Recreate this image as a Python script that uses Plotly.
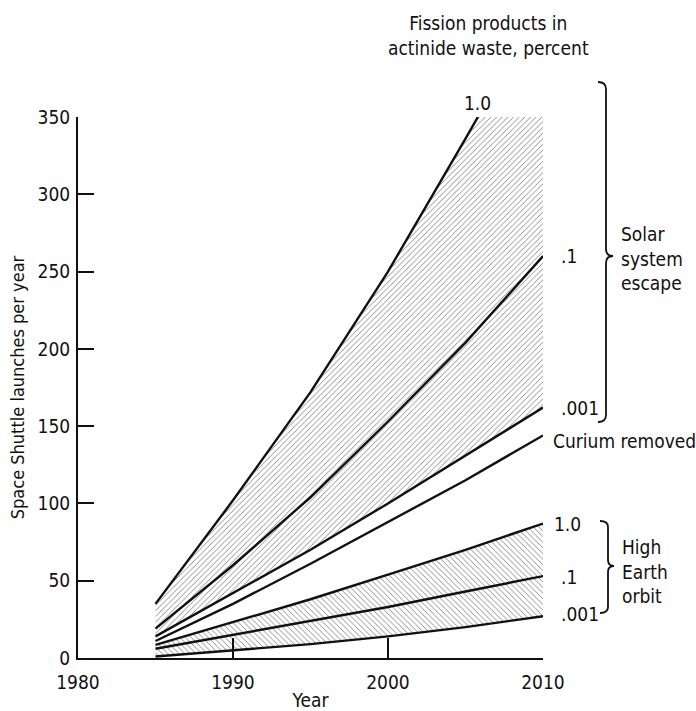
import plotly.graph_objects as go

# ---------------- data ----------------
years = [1985, 1990, 1995, 2000, 2005, 2010]

# Solar system escape, fission products in actinide waste (percent)
solar_1_0_years = [1985, 1990, 1995, 2000, 2005, 2005.8]
solar_1_0 = [35, 102, 172, 250, 336, 350]
solar_0_1 = [19, 60, 104, 153, 204, 260]
solar_0_001 = [14, 42, 70, 100, 131, 162]

# Curium removed
curium_removed = [11, 35, 61, 88, 115, 144]

# High Earth orbit
heo_1_0 = [8.5, 23, 38, 54, 70, 87]
heo_0_1 = [6, 15, 24, 33, 43, 53]
heo_0_001 = [1, 5, 9, 14, 20, 27]

x_range = [1980, 2010]
y_range = [0, 350]
x_ticks = [1980, 1990, 2000, 2010]
y_ticks = [0, 50, 100, 150, 200, 250, 300, 350]

# ---------------- layout constants ----------------
W, H = 696, 711
ML, MR, MT, MB = 78, 153, 117, 53
PW, PH = W - ML - MR, H - MT - MB
FONT = "Liberation Sans Narrow, DejaVu Sans Condensed, Arial Narrow, sans-serif"
INK = "#111111"


def px_x(x):
    return (x - ML) / PW


def px_y(y):
    return (H - MB - y) / PH


def brace_path(x0, x1, x2, ytop, ymid, ybot, r=7):
    pts = [
        f"M {px_x(x0)},{px_y(ytop)}",
        f"Q {px_x(x1)},{px_y(ytop)} {px_x(x1)},{px_y(ytop + r)}",
        f"L {px_x(x1)},{px_y(ymid - r)}",
        f"Q {px_x(x1)},{px_y(ymid)} {px_x(x2)},{px_y(ymid)}",
        f"Q {px_x(x1)},{px_y(ymid)} {px_x(x1)},{px_y(ymid + r)}",
        f"L {px_x(x1)},{px_y(ybot - r)}",
        f"Q {px_x(x1)},{px_y(ybot)} {px_x(x0)},{px_y(ybot)}",
    ]
    return " ".join(pts)


fig = go.Figure()

# hatched band: solar system escape (between 1.0 and .001, clipped at top of axis)
solar_band_x = solar_1_0_years + [x_range[1]] + years[::-1]
solar_band_y = solar_1_0 + [y_range[1]] + solar_0_001[::-1]
fig.add_trace(go.Scatter(
    x=solar_band_x, y=solar_band_y, mode="lines", fill="toself",
    line=dict(width=0, color="rgba(0,0,0,0)"),
    fillcolor="white",
    fillpattern=dict(shape="/", fgcolor="#808080", bgcolor="white",
                     size=4, solidity=0.22, fillmode="replace"),
    hoverinfo="skip", showlegend=False,
))

# hatched band: high Earth orbit (between 1.0 and .001)
heo_band_x = years + years[::-1]
heo_band_y = heo_1_0 + heo_0_001[::-1]
fig.add_trace(go.Scatter(
    x=heo_band_x, y=heo_band_y, mode="lines", fill="toself",
    line=dict(width=0, color="rgba(0,0,0,0)"),
    fillcolor="white",
    fillpattern=dict(shape="\\", fgcolor="#808080", bgcolor="white",
                     size=4, solidity=0.22, fillmode="replace"),
    hoverinfo="skip", showlegend=False,
))

series = [
    ("Solar escape 1.0", solar_1_0_years, solar_1_0),
    ("Solar escape .1", years, solar_0_1),
    ("Solar escape .001", years, solar_0_001),
    ("Curium removed", years, curium_removed),
    ("High Earth orbit 1.0", years, heo_1_0),
    ("High Earth orbit .1", years, heo_0_1),
    ("High Earth orbit .001", years, heo_0_001),
]
for name, xs, ys in series:
    fig.add_trace(go.Scatter(
        x=xs, y=ys, mode="lines", name=name,
        line=dict(color=INK, width=2.4),
        showlegend=False,
    ))

annotations = []
lab_font = dict(family=FONT, size=19, color=INK)

# label at the top end of the solar 1.0 curve
annotations.append(dict(x=solar_1_0_years[-1], y=solar_1_0[-1], xref="x", yref="y",
                        text="1.0", showarrow=False, xanchor="center", yanchor="bottom",
                        yshift=1, font=lab_font))
# labels at the 2010 end of the curves
end_labels = [
    (".1", solar_0_1[-1], 16, 0),
    (".001", solar_0_001[-1], 16, 0),
    ("Curium removed", curium_removed[-1], 8, -6),
    ("1.0", heo_1_0[-1], 9, 0),
    (".1", heo_0_1[-1], 16, -1),
    (".001", heo_0_001[-1], 16, 2),
]
for text, yv, xs, ys in end_labels:
    annotations.append(dict(x=x_range[1], y=yv, xref="x", yref="y", text=text,
                            showarrow=False, xanchor="left", yanchor="middle",
                            xshift=xs, yshift=ys, font=lab_font))

# header
annotations.append(dict(x=px_x(488), y=px_y(35), xref="paper", yref="paper",
                        text="Fission products in<br>actinide waste, percent",
                        showarrow=False, xanchor="center", yanchor="middle",
                        font=lab_font))
# group labels
annotations.append(dict(x=px_x(619), y=px_y(258), xref="paper", yref="paper",
                        text="Solar<br>system<br>escape", align="left",
                        showarrow=False, xanchor="left", yanchor="middle", font=lab_font))
annotations.append(dict(x=px_x(620), y=px_y(571), xref="paper", yref="paper",
                        text="High<br>Earth<br>orbit", align="left",
                        showarrow=False, xanchor="left", yanchor="middle", font=lab_font))

shapes = [
    dict(type="path", xref="paper", yref="paper",
         path=brace_path(598, 606, 613, 82, 256, 422),
         line=dict(color=INK, width=1.8)),
    dict(type="path", xref="paper", yref="paper",
         path=brace_path(600, 608, 614, 521, 566, 613, r=6),
         line=dict(color=INK, width=1.8)),
]

fig.update_layout(
    width=W, height=H,
    margin=dict(l=ML, r=MR, t=MT, b=MB, pad=0, autoexpand=False),
    paper_bgcolor="white", plot_bgcolor="white",
    font=dict(family=FONT, size=19, color=INK),
    annotations=annotations, shapes=shapes,
    showlegend=False,
)
fig.update_xaxes(
    range=x_range, tickvals=x_ticks, ticks="inside", ticklen=20, tickwidth=1.5,
    tickcolor=INK, showline=True, linecolor=INK, linewidth=2, showgrid=False,
    zeroline=False, mirror=False, ticklabelstandoff=6, automargin=False,
    title=dict(text="Year", standoff=6, font=dict(family=FONT, size=19, color=INK)),
    tickfont=dict(family=FONT, size=19, color=INK),
)
fig.update_yaxes(
    range=y_range, tickvals=y_ticks, ticks="inside", ticklen=16, tickwidth=1.5,
    tickcolor=INK, showline=True, linecolor=INK, linewidth=2, showgrid=False,
    zeroline=False, mirror=False, ticklabelstandoff=2, automargin=False,
    title=dict(text="Space Shuttle launches per year", standoff=8,
               font=dict(family=FONT, size=18, color=INK)),
    tickfont=dict(family=FONT, size=19, color=INK),
)

fig.write_html("out.html")
